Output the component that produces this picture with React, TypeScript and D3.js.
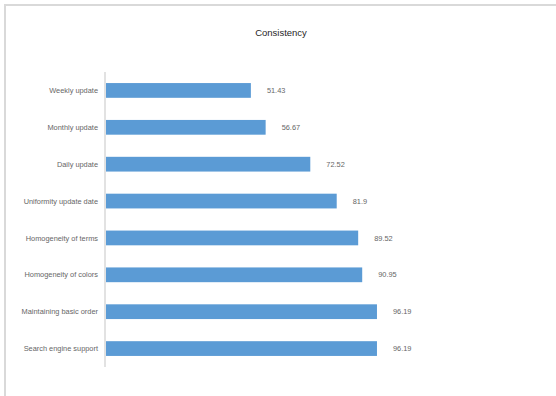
import React from "react";
import * as d3 from "d3";

const categories = [
  "Weekly update",
  "Monthly update",
  "Daily update",
  "Uniformity update date",
  "Homogeneity of terms",
  "Homogeneity of colors",
  "Maintaining basic order",
  "Search engine support",
];
const values = [51.43, 56.67, 72.52, 81.9, 89.52, 90.95, 96.19, 96.19];
const valueLabels = ["51.43", "56.67", "72.52", "81.9", "89.52", "90.95", "96.19", "96.19"];
const title = "Consistency";

const W = 556;
const H = 396;
const FONT = "'Liberation Sans', Arial, sans-serif";

export default function App() {
  const x = d3.scaleLinear().domain([0, 100]).range([106, 387.7]);
  const y = d3
    .scaleBand<string>()
    .domain(categories)
    .range([72, 367])
    .paddingInner(0.6)
    .paddingOuter(0.3);

  return (
    <svg
      width={W}
      height={H}
      style={{ position: "absolute", left: 0, top: 0, background: "#fff" }}
    >
      <rect x={0} y={0} width={W} height={H} fill="#fff" />
      {/* chart border */}
      <line x1={4} y1={5} x2={W} y2={5} stroke="#d9d9d9" strokeWidth={2} />
      <line x1={5} y1={4} x2={5} y2={H} stroke="#d9d9d9" strokeWidth={2} />
      <text
        x={281}
        y={36}
        textAnchor="middle"
        fontFamily={FONT}
        fontSize={9.5}
        fill="#262626"
      >
        {title}
      </text>
      {categories.map((c, i) => {
        const yy = y(c)!;
        const bw = y.bandwidth();
        return (
          <g key={c}>
            <rect
              x={x(0)}
              y={yy}
              width={x(values[i]) - x(0)}
              height={bw}
              fill="#5b9bd5"
            />
            <text
              x={98}
              y={yy + bw / 2}
              dy="0.35em"
              textAnchor="end"
              fontFamily={FONT}
              fontSize={7.4}
              fill="#666666"
            >
              {c}
            </text>
            <text
              x={x(values[i]) + 16}
              y={yy + bw / 2}
              dy="0.35em"
              textAnchor="start"
              fontFamily={FONT}
              fontSize={7.4}
              fill="#666666"
            >
              {valueLabels[i]}
            </text>
          </g>
        );
      })}
      <line x1={105} y1={72} x2={105} y2={367} stroke="#d9d9d9" strokeWidth={1.5} />
    </svg>
  );
}
